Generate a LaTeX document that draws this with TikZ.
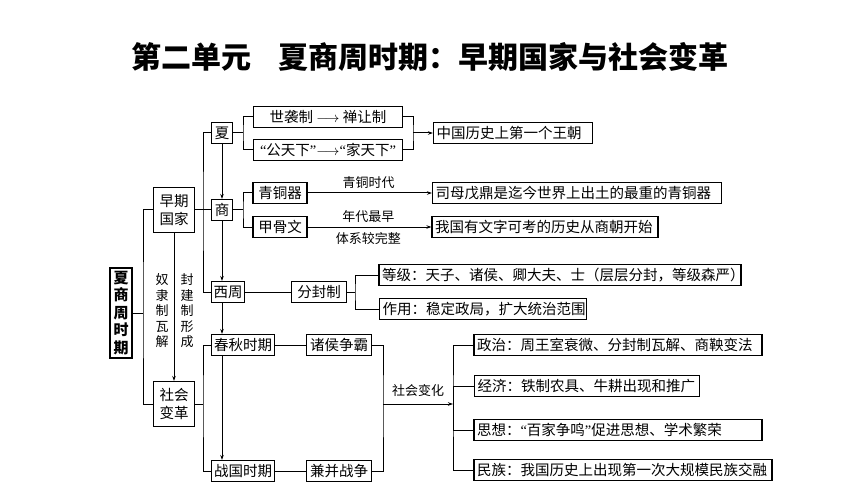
\documentclass[tikz,border=0pt]{standalone}
\usepackage{fontspec}
\setmainfont{Noto Sans CJK SC}
\newfontfamily\quotefont{Liberation Serif}
\newcommand\qopen{{\quotefont “}}
\newcommand\qclose{{\quotefont ”}}
\usetikzlibrary{arrows.meta}
\tikzset{
every picture/.style={
line width=1pt
}}

\begin{document}
\begin{tikzpicture}[x=1pt, y=-1pt,
block/.style = {rectangle, draw=black, line width=1.1pt, inner xsep=2pt, inner ysep=2pt,
  minimum height=21pt, font=\fontsize{14.5}{17.5}\selectfont, align=center},
wide/.style = {block, inner xsep=3pt, text width=#1, align=left},
lbl/.style = {font=\fontsize{13}{15.5}\selectfont, inner sep=1pt, align=center},
arr/.style = {-{Stealth[length=5pt,width=3.5pt]}}]
\useasboundingbox (0,0) rectangle (860,484);

\node (title) at (430,57) {\fontsize{30}{32}\selectfont\bfseries 第二单元\hspace{0.9em}夏商周时期：早期国家与社会变革};

% left column
\node[block, font=\fontsize{15}{17.5}\selectfont\bfseries, minimum width=22pt, minimum height=90pt] (xsz) at (121,313) {夏\\商\\周\\时\\期};
\node[block, minimum width=41pt, minimum height=45pt] (zqgj) at (174,210) {早期\\国家};
\node[block, minimum width=41pt, minimum height=45pt] (shbg) at (174,404) {社会\\变革};
\node[lbl] (nlz) at (162,311) {奴\\隶\\制\\瓦\\解};
\node[lbl] (fjz) at (187,311) {封\\建\\制\\形\\成};

\coordinate (lb) at (143,313);
\draw (zqgj.west) -| (lb) |- (shbg.west);
\draw (xsz.east) -- (lb);
\draw[arr] (zqgj.south) -- (shbg.north);

% dynasties
\node[block, minimum width=21pt] (xia) at (222,133) {夏};
\node[block, minimum width=21pt] (shang) at (222,210) {商};
\node[block, minimum width=32pt] (xizhou) at (228,292) {西周};
\node[block, minimum width=63pt] (chunqiu) at (243,345) {春秋时期};
\node[block, minimum width=63pt] (zhanguo) at (243,471) {战国时期};

\coordinate (tb) at (203,210);
\draw (xia.west) -| (tb) |- (xizhou.west);
\draw (zqgj.east) -- (shang.west);
\draw[arr] (xia.south) -- (shang.north);
\draw[arr] (shang.south) -- (shang.south |- xizhou.north);
\draw[arr] (shang.south |- xizhou.south) -- (shang.south |- chunqiu.north);
\draw[arr] (shang.south |- chunqiu.south) -- (shang.south |- zhanguo.north);

\coordinate (cb) at (203,404);
\draw (chunqiu.west) -| (cb) |- (zhanguo.west);
\draw (shbg.east) -- (cb);

% xia
\node[block, minimum width=149pt] (sxz) at (328,117) {世袭制 $\longrightarrow$ 禅让制};
\node[block, minimum width=149pt] (gtx) at (328,150) {\qopen 公天下\qclose$\longrightarrow$\qopen 家天下\qclose};
\node[wide=153pt] (wangchao) at (513,133) {中国历史上第一个王朝};
\coordinate (xb) at (243,133);
\coordinate (xr) at (413,133);
\draw (sxz.west) -| (xb) |- (gtx.west);
\draw (xia.east) -- (xb);
\draw (sxz.east) -| (xr) |- (gtx.east);
\draw[arr] (xr) -- (wangchao.west);

% shang
\node[block, minimum width=54pt] (qtq) at (280,193) {青铜器};
\node[block, minimum width=54pt] (jgw) at (280,227) {甲骨文};
\node[wide=283pt] (smwd) at (577,193) {司母戊鼎是迄今世界上出土的最重的青铜器};
\node[wide=220pt] (wgyw) at (545,227) {我国有文字可考的历史从商朝开始};
\coordinate (sb) at (243,210);
\draw (qtq.west) -| (sb) |- (jgw.west);
\draw (shang.east) -- (sb);
\draw[arr] (qtq.east) -- node[lbl, above=3pt, pos=0.49] (qtsd) {青铜时代} (smwd.west);
\draw[arr] (jgw.east) -- node[lbl, above=3pt, pos=0.49] (ndzz) {年代最早}
  node[lbl, below=4pt, pos=0.49] (txwz) {体系较完整} (wgyw.west);

% xizhou
\node[block, minimum width=55pt] (ffz) at (319,292) {分封制};
\node[wide=356pt] (dengji) at (560,275) {等级：天子、诸侯、卿大夫、士（层层分封，等级森严）};
\node[wide=201pt] (zuoyong) at (483,309) {作用：稳定政局，扩大统治范围};
\coordinate (fb) at (355,292);
\draw (xizhou.east) -- (ffz.west);
\draw (dengji.west) -| (fb) |- (zuoyong.west);
\draw (ffz.east) -- (fb);

% chunqiu zhanguo
\node[block, minimum width=65pt] (zhbz) at (339,345) {诸侯争霸};
\node[block, minimum width=65pt] (jbzz) at (339,471) {兼并战争};
\draw (chunqiu.east) -- (zhbz.west);
\draw (zhanguo.east) -- (jbzz.west);

\node[wide=282pt] (zhengzhi) at (618,345) {政治：周王室衰微、分封制瓦解、商鞅变法};
\node[wide=219pt] (jingji) at (587,386) {经济：铁制农具、牛耕出现和推广};
\node[wide=282pt] (sixiang) at (618,430) {思想：\qopen 百家争鸣\qclose 促进思想、学术繁荣};
\node[wide=292pt] (minzu) at (623,470) {民族：我国历史上出现第一次大规模民族交融};

\coordinate (rb) at (383,404);
\coordinate (sb2) at (453,404);
\draw (zhbz.east) -| (rb) |- (jbzz.east);
\draw[arr] (rb) -- node[lbl, above=6pt] (shbh) {社会变化} (sb2);
\draw (zhengzhi.west) -| (sb2) |- (minzu.west);
\draw (jingji.west) -| (sb2);
\draw (sixiang.west) -| (sb2);
\end{tikzpicture}
\end{document}
